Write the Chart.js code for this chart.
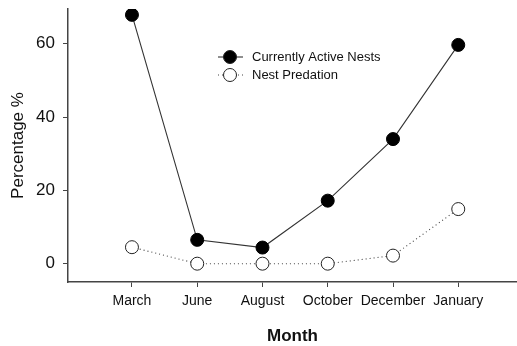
<!DOCTYPE html>
<html>
<head>
<meta charset="utf-8">
<script src="https://cdn.jsdelivr.net/npm/chart.js@4/dist/chart.umd.min.js"></script>
<style>
  html, body { margin: 0; padding: 0; background: #fff; }
  #wrap { width: 517px; height: 346px; }
</style>
</head>
<body>
<div id="wrap"><canvas id="my-chart"></canvas></div>
<script>
'use strict';

/* DATA */
let months = ['March', 'June', 'August', 'October', 'December', 'January'];
let activeNests = [67.9, 6.5, 4.4, 17.2, 34.0, 59.7];
let nestPredation = [4.5, 0, 0, 0, 2.2, 14.9];
let yTicks = [0, 20, 40, 60];

/* LEGEND drawn like the original (line + marker) */
const lineLegend = {
  id: 'lineLegend',
  afterDraw(chart) {
    let ctx = chart.ctx;
    let rows = [
      { y: 57, ds: chart.data.datasets[0] },
      { y: 75, ds: chart.data.datasets[1] },
    ];
    ctx.save();
    rows.forEach((r) => {
      ctx.strokeStyle = r.ds.borderColor;
      ctx.lineWidth = r.ds.borderWidth;
      ctx.setLineDash(r.ds.borderDash || []);
      ctx.beginPath();
      ctx.moveTo(218, r.y);
      ctx.lineTo(243, r.y);
      ctx.stroke();
      ctx.setLineDash([]);
      ctx.beginPath();
      ctx.arc(230, r.y, 6.5, 0, Math.PI * 2);
      ctx.fillStyle = r.ds.pointBackgroundColor;
      ctx.fill();
      ctx.strokeStyle = '#222';
      ctx.lineWidth = 1;
      ctx.stroke();
      ctx.fillStyle = '#111';
      ctx.font = '13px "Liberation Sans", Arial, sans-serif';
      ctx.textBaseline = 'middle';
      ctx.fillText(r.ds.label, 252, r.y);
    });
    ctx.restore();
  },
};

function renderChart() {
  Chart.defaults.font.family = '"Liberation Sans", Arial, sans-serif';
  Chart.defaults.color = '#111';

  let myChartObj = {
    type: 'line',
    data: {
      datasets: [
        {
          label: 'Currently Active Nests',
          data: activeNests.map((v, i) => ({ x: i, y: v })),
          borderColor: '#333',
          borderWidth: 1.1,
          pointRadius: 6.5,
          pointBackgroundColor: '#000',
          pointBorderColor: '#000',
          pointBorderWidth: 1,
        },
        {
          label: 'Nest Predation',
          data: nestPredation.map((v, i) => ({ x: i, y: v })),
          borderColor: '#444',
          borderWidth: 1.1,
          borderDash: [1, 3],
          pointRadius: 6.5,
          pointBackgroundColor: '#fff',
          pointBorderColor: '#222',
          pointBorderWidth: 1,
        },
      ],
    },
    options: {
      responsive: true,
      maintainAspectRatio: false,
      animation: false,
      layout: {
        autoPadding: false,
        padding: { top: 9, right: 0, left: 0, bottom: 0 },
      },
      plugins: { legend: { display: false }, tooltip: { enabled: false } },
      scales: {
        x: {
          type: 'linear',
          min: -0.98,
          max: 5.9,
          afterBuildTicks: (axis) => {
            axis.ticks = months.map((m, i) => ({ value: i }));
          },
          afterFit: (axis) => {
            axis.height = 64;
            axis.paddingLeft = 0;
            axis.paddingRight = 0;
          },
          ticks: {
            autoSkip: false,
            maxRotation: 0,
            padding: 6,
            font: { size: 14 },
            callback: (v) => months[v],
          },
          grid: { drawOnChartArea: false, tickLength: 5, color: '#444' },
          border: { color: '#444', width: 1.5 },
          title: {
            display: true,
            text: 'Month',
            font: { size: 17, weight: 'bold' },
            padding: { top: 4, bottom: -1 },
          },
        },
        y: {
          min: -5,
          max: 69.5,
          afterBuildTicks: (axis) => {
            axis.ticks = yTicks.map((v) => ({ value: v }));
          },
          afterFit: (axis) => {
            axis.width = 68;
            axis.paddingTop = 0;
            axis.paddingBottom = 0;
          },
          ticks: { padding: 8, font: { size: 17 } },
          grid: { drawOnChartArea: false, tickLength: 5, color: '#444' },
          border: { color: '#444', width: 1.5 },
          title: {
            display: true,
            text: 'Percentage %',
            font: { size: 17 },
            padding: { top: 8, bottom: 0 },
          },
        },
      },
    },
    plugins: [lineLegend],
  };
  new Chart(document.getElementById('my-chart').getContext('2d'), myChartObj);
}
renderChart();
</script>
</body>
</html>
